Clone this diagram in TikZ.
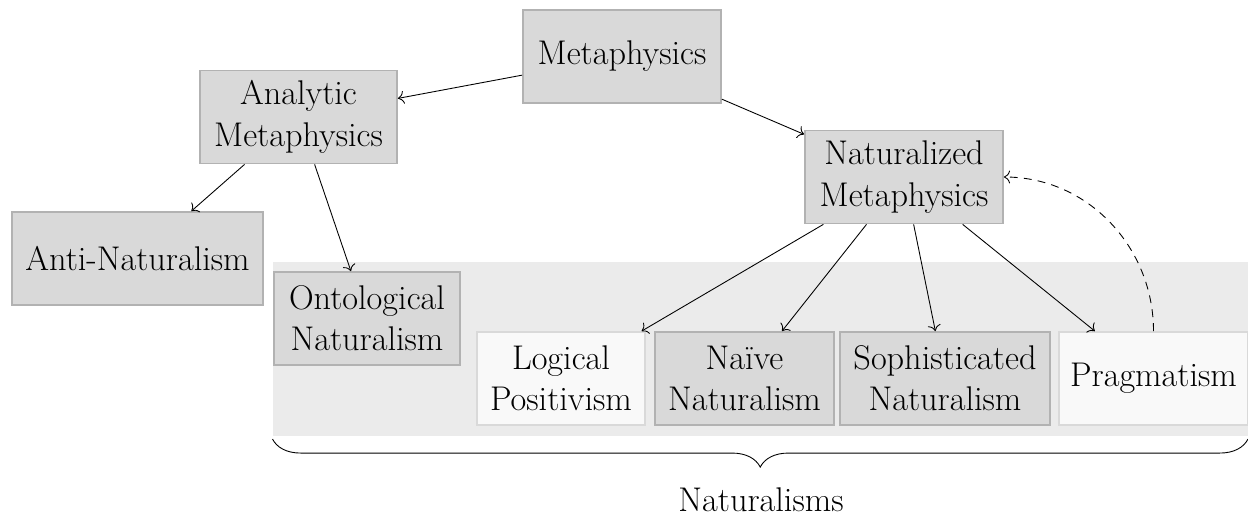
\documentclass[tikz,border=0pt]{standalone}
\usepackage{xcolor}
\usepackage{tikz}
\usetikzlibrary{decorations.pathreplacing,arrows.meta}

\begin{document}
\begin{tikzpicture}[font=\fontsize{19.5}{23.5}\selectfont, >={To[scale=1.3]},
    darkbox/.style={draw=gray!60, fill=gray!30, line width=1pt, align=center, minimum height=1.86cm, inner sep=2pt},
    lightbox/.style={darkbox, draw=gray!30, fill=gray!5},
    link/.style={->, line width=0.5pt}]
          \useasboundingbox (0,0) rectangle (24.96,10.32);
          \fill[gray!16] (5.45,1.61) rectangle (24.96,5.08);
          \node[darkbox, minimum width=3.96cm] (meta) at (12.44,9.19) {Metaphysics};
          \node[darkbox, minimum width=3.94cm] (analytic) at (5.97,7.98) {Analytic\\Metaphysics};
          \node[darkbox, minimum width=3.96cm] (naturalized) at (18.08,6.78) {Naturalized\\Metaphysics};
          \node[darkbox, minimum width=5.02cm] (anti) at (2.75,5.15) {Anti-Naturalism};
          \node[darkbox, minimum width=3.72cm] (ontological) at (7.34,3.95) {Ontological\\Naturalism};
          \node[lightbox, minimum width=3.36cm] (logical) at (11.22,2.75) {Logical\\Positivism};
          \node[darkbox, minimum width=3.58cm] (naive) at (14.89,2.75) {Na\"ive\\Naturalism};
          \node[darkbox, minimum width=4.2cm] (sophisticated) at (18.90,2.75) {Sophisticated\\Naturalism};
          \node[lightbox, minimum width=3.78cm] (pragmatism) at (23.07,2.75) {Pragmatism};
          \draw[link] (meta) -- (analytic); \draw[link] (meta) -- (naturalized);
          \draw[link] (analytic) -- (anti); \draw[link] (analytic) -- (ontological);
          \draw[link] (naturalized) -- (logical); \draw[link] (naturalized) -- (naive);
          \draw[link] (naturalized) -- (sophisticated); \draw[link] (naturalized) -- (pragmatism);
          \draw[link, dash pattern=on 4.5pt off 3.5pt] (pragmatism.north) to[out=90, in=0] (naturalized.east);
          % brace under the naturalisms
          \coordinate (braceleft) at (5.45,1.54); \coordinate (braceright) at (24.96,1.54);
          \draw[line width=0.5pt, decorate, decoration={brace, mirror, amplitude=16pt}] (braceleft) -- (braceright);
          \node[anchor=base] (naturalisms) at (15.22,0.09) {Naturalisms};
        \end{tikzpicture}
\end{document}
